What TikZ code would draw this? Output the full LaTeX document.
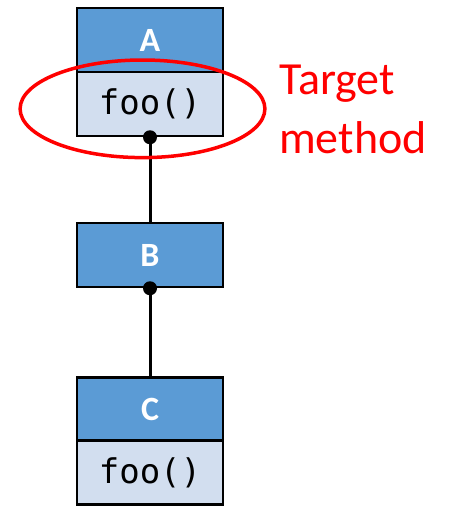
\documentclass[tikz,border=0pt]{standalone}
\usepackage{fontspec}
\setmainfont{Carlito}
\newfontfamily\codefont{DejaVu Sans Mono}
\definecolor{hdrblue}{HTML}{5B9BD5}
\definecolor{bodyblue}{HTML}{D2DEEF}
\definecolor{markred}{HTML}{FF0000}
\begin{document}
\begin{tikzpicture}[x=1pt,y=-1pt,
  classhead/.style={draw=black, line width=2.5pt, fill=hdrblue,
    minimum width=146pt, minimum height=64pt, inner sep=0pt,
    text=white, font=\fontsize{34}{40}\selectfont\bfseries},
  classbody/.style={draw=black, line width=2.5pt, fill=bodyblue,
    minimum width=146pt, minimum height=64pt, inner sep=0pt,
    font=\fontsize{34}{40}\selectfont\codefont},
  link/.style={line width=3pt},
  joint/.style={circle, fill=black, inner sep=0pt, minimum size=14pt}]
\useasboundingbox (0,0) rectangle (448,506);
% class A with its method
\node[classhead] (A) at (150,40) {A};
\node[classbody] (Afoo) at (150,104) {foo()};
% class B
\node[classhead] (B) at (150,255) {B};
% class C with its overriding method
\node[classhead] (C) at (150,409.5) {C};
\node[classbody] (Cfoo) at (150,472.5) {foo()};
% inheritance links with joints
\draw[link] (Afoo.south) -- (B.north);
\draw[link] (B.south) -- (C.north);
\node[joint] (jA) at (Afoo.south) {};
\node[joint] (jB) at (B.south) {};
% highlight ring and its caption
\draw[markred, line width=3.5pt] (142.5,108.8) ellipse [x radius=122.4, y radius=48.8];
\node[anchor=base west, inner sep=0pt, align=left, text=markred,
      font=\fontsize{46}{59}\selectfont] (label) at (279,153) {Target\\method};
\end{tikzpicture}
\end{document}
